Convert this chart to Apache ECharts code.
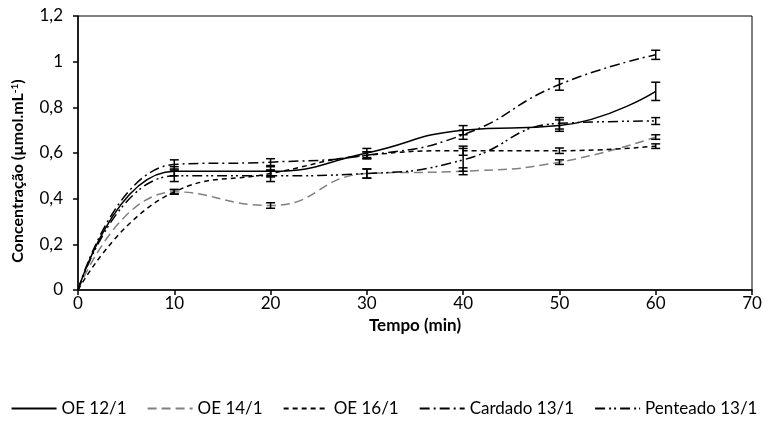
<!DOCTYPE html>
<html lang="pt">
<head>
    <meta charset="UTF-8">
    <title>Concentração x Tempo</title>
    <script src="https://cdn.jsdelivr.net/npm/echarts@6/dist/echarts.min.js"></script>
    <style type="text/css">
        body { margin: 0; padding: 0; background: #fff; }
        #chart { width: 768px; height: 427px; }
    </style>
</head>
<body>
<div id="chart"></div>
<script>
    // tempo (min)
    const tempo = [0, 10, 20, 30, 40, 50, 60];

    const oe12 = [0, 0.52, 0.52, 0.60, 0.70, 0.72, 0.87];
    const oe12Err = [0, 0.02, 0.02, 0.02, 0.02, 0.025, 0.04];
    const oe14 = [0, 0.43, 0.37, 0.51, 0.52, 0.56, 0.67];
    const oe14Err = [0, 0.01, 0.012, 0.02, 0.015, 0.01, 0.01];
    const oe16 = [0, 0.43, 0.51, 0.59, 0.61, 0.61, 0.63];
    const oe16Err = [0, 0.01, 0.015, 0.015, 0.02, 0.012, 0.01];
    const cardado = [0, 0.55, 0.56, 0.59, 0.68, 0.90, 1.03];
    const cardadoErr = [0, 0.02, 0.015, 0.015, 0.02, 0.025, 0.02];
    const penteado = [0, 0.50, 0.50, 0.51, 0.57, 0.73, 0.74];
    const penteadoErr = [0, 0.025, 0.025, 0.02, 0.05, 0.025, 0.015];

    const nomes = ['OE 12/1', 'OE 14/1', 'OE 16/1', 'Cardado 13/1', 'Penteado 13/1'];

    const FONT = 'Lato';

    var chart = echarts.init(document.getElementById('chart'));

    function pares(vals) {
        return tempo.map((t, i) => [t, vals[i]]);
    }

    function barrasErro(vals, errs) {
        var out = [];
        tempo.forEach((t, i) => {
            if (errs[i] > 0) out.push([t, vals[i] - errs[i], vals[i] + errs[i]]);
        });
        return out;
    }

    function desenhaErro(params, api) {
        var x = api.value(0);
        var top = api.coord([x, api.value(2)]);
        var bot = api.coord([x, api.value(1)]);
        var w = 4.5;
        var st = { stroke: '#000', lineWidth: 1.5 };
        return {
            type: 'group',
            children: [
                { type: 'line', shape: { x1: top[0], y1: top[1], x2: bot[0], y2: bot[1] }, style: st },
                { type: 'line', shape: { x1: top[0] - w, y1: top[1], x2: top[0] + w, y2: top[1] }, style: st },
                { type: 'line', shape: { x1: bot[0] - w, y1: bot[1], x2: bot[0] + w, y2: bot[1] }, style: st }
            ]
        };
    }

    function linha(nome, vals, cor, tipo) {
        return {
            name: nome,
            type: 'line',
            data: pares(vals),
            smooth: 0.5,
            symbol: 'none',
            z: 3,
            lineStyle: { color: cor, width: 1.5, type: tipo },
            itemStyle: { color: cor }
        };
    }

    function erro(id, vals, errs) {
        return {
            name: id,
            type: 'custom',
            data: barrasErro(vals, errs),
            encode: { x: 0, y: [1, 2] },
            renderItem: desenhaErro,
            z: 4,
            silent: true
        };
    }

    var option = {
        animation: false,
        textStyle: { fontFamily: FONT },
        grid: {
            left: 78, right: 16, top: 16, bottom: 137,
            show: true, borderColor: '#000', borderWidth: 1
        },
        legend: {
            data: nomes,
            bottom: 5,
            left: 'center',
            itemWidth: 45,
            itemHeight: 12,
            itemGap: 20,
            itemStyle: { opacity: 0 },
            textStyle: { fontFamily: FONT, fontSize: 17, color: '#000' }
        },
        xAxis: {
            type: 'value',
            min: 0, max: 70, interval: 10,
            name: 'Tempo (min)',
            nameLocation: 'middle',
            nameGap: 27,
            nameTextStyle: { fontFamily: FONT, fontWeight: 'bold', fontSize: 17, color: '#000' },
            axisLine: { lineStyle: { color: '#000', width: 1.5 } },
            axisTick: { inside: false, length: 5, lineStyle: { color: '#000', width: 1.5 } },
            axisLabel: { margin: 5, fontFamily: FONT, fontSize: 17, color: '#000' },
            splitLine: { show: false }
        },
        yAxis: {
            type: 'value',
            min: 0, max: 1.2, interval: 0.2,
            name: '{t|Concentração (µmol.mL}{s|-1}{t|)}',
            nameLocation: 'middle',
            nameGap: 52,
            nameRotate: 90,
            nameTextStyle: {
                padding: [0, 36, 0, 0],
                rich: {
                    t: { fontFamily: FONT, fontWeight: 'bold', fontSize: 16, color: '#000' },
                    s: { fontFamily: FONT, fontWeight: 'bold', fontSize: 10, color: '#000', verticalAlign: 'top', padding: [0, 0, 6, 0] }
                }
            },
            axisLine: { show: true, lineStyle: { color: '#000', width: 1.5 } },
            axisTick: { show: true, inside: false, length: 5, lineStyle: { color: '#000', width: 1.5 } },
            axisLabel: {
                margin: 15, fontFamily: FONT, fontSize: 17, color: '#000',
                formatter: v => String(+v.toFixed(1)).replace('.', ',')
            },
            splitLine: { show: false }
        },
        series: [
            linha(nomes[0], oe12, '#000', 'solid'),
            linha(nomes[1], oe14, '#808080', [9, 5]),
            linha(nomes[2], oe16, '#000', [5, 4]),
            linha(nomes[3], cardado, '#000', [10, 4, 2, 4]),
            linha(nomes[4], penteado, '#000', [10, 4, 2, 3, 2, 4]),
            erro('e1', oe12, oe12Err),
            erro('e2', oe14, oe14Err),
            erro('e3', oe16, oe16Err),
            erro('e4', cardado, cardadoErr),
            erro('e5', penteado, penteadoErr)
        ]
    };

    chart.setOption(option);
</script>
</body>
</html>
